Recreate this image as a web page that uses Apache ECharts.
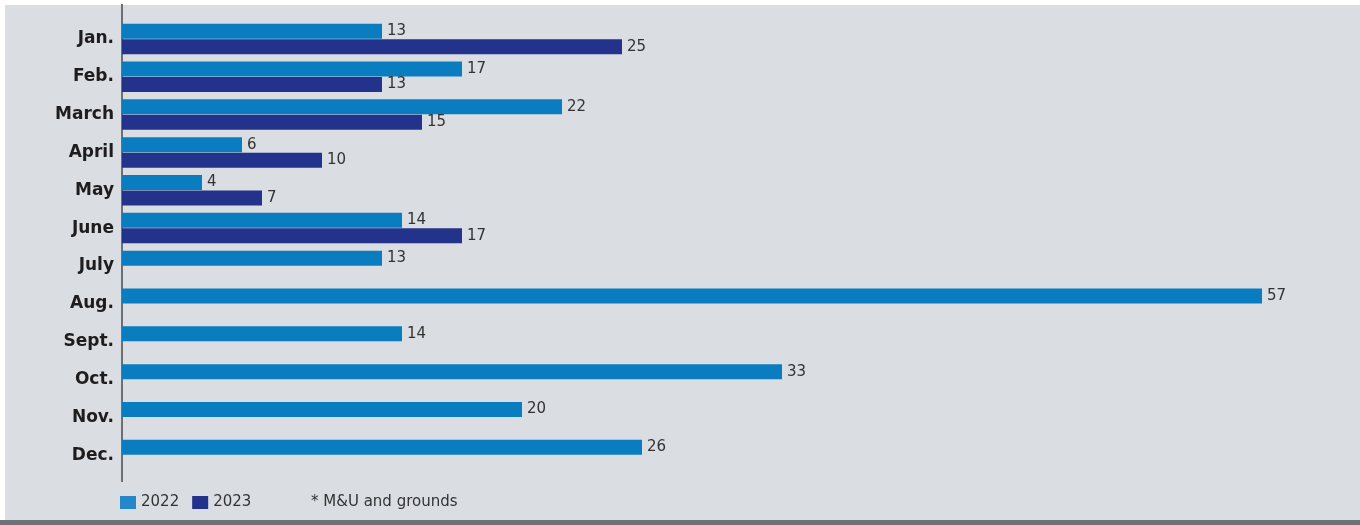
<!DOCTYPE html>
<html>
<head>
<meta charset="utf-8">
<script src="https://cdn.jsdelivr.net/npm/echarts@6/dist/echarts.min.js"></script>
<style>
  html, body { margin: 0; padding: 0; background: #ffffff; }
  #frame { position: absolute; left: 5px; top: 5px; width: 1355px; height: 515px; background: #dadde2; }
  #rule { position: absolute; left: 0; top: 520px; width: 1360px; height: 5px; background: #6b7378; }
  #chart { position: absolute; left: 0; top: 0; width: 1360px; height: 525px; }
</style>
</head>
<body>
<div id="frame"></div>
<div id="rule"></div>
<div id="chart"></div>
<script>
// Monthly counts, 2022 vs 2023
const months = ['Jan.', 'Feb.', 'March', 'April', 'May', 'June', 'July', 'Aug.', 'Sept.', 'Oct.', 'Nov.', 'Dec.'];
const values2022 = [13, 17, 22, 6, 4, 14, 13, 57, 14, 33, 20, 26];
const values2023 = [25, 13, 15, 10, 7, 17, null, null, null, null, null, null];
const seriesNames = ['2022', '2023'];
const footnote = '* M&U and grounds';

const color2022 = '#0a7dc1';
const color2023 = '#23328a';
const textFont = "'DejaVu Sans', sans-serif";

const chart = echarts.init(document.getElementById('chart'), null, { renderer: 'canvas' });

const valueLabel = {
  show: true,
  position: 'right',
  distance: 5,
  color: '#333333',
  fontSize: 15,
  fontFamily: textFont
};

chart.setOption({
  backgroundColor: 'transparent',
  animation: false,
  grid: { left: 122, top: 20, width: 1200, height: 454, containLabel: false },
  xAxis: {
    type: 'value',
    min: 0,
    max: 60,
    show: false
  },
  yAxis: {
    type: 'category',
    data: months,
    inverse: true,
    axisLine: { show: false },
    axisTick: { show: false },
    axisLabel: {
      margin: 8,
      color: '#1f1c1d',
      fontSize: 17,
      fontWeight: 'bold',
      fontFamily: textFont
    }
  },
  legend: {
    left: 115,
    top: 490,
    itemWidth: 16,
    itemHeight: 13,
    itemGap: 13,
    icon: 'rect',
    textStyle: { color: '#333333', fontSize: 15, fontFamily: textFont },
    data: [
      { name: seriesNames[0], itemStyle: { color: '#2387ca' } },
      { name: seriesNames[1], itemStyle: { color: '#23328a' } }
    ]
  },
  graphic: [
    {
      type: 'line',
      shape: { x1: 122, y1: 4, x2: 122, y2: 482 },
      style: { stroke: '#4a4a4a', lineWidth: 1.5 },
      silent: true
    },
    {
      type: 'text',
      left: 311,
      top: 495,
      style: { text: footnote, fill: '#333333', fontSize: 15, fontFamily: textFont }
    }
  ],
  series: [
    {
      name: seriesNames[0],
      type: 'bar',
      data: values2022,
      barWidth: 15,
      barGap: '3%',
      itemStyle: { color: color2022 },
      label: valueLabel
    },
    {
      name: seriesNames[1],
      type: 'bar',
      data: values2023,
      barWidth: 15,
      itemStyle: { color: color2023 },
      label: valueLabel
    }
  ]
});
</script>
</body>
</html>
